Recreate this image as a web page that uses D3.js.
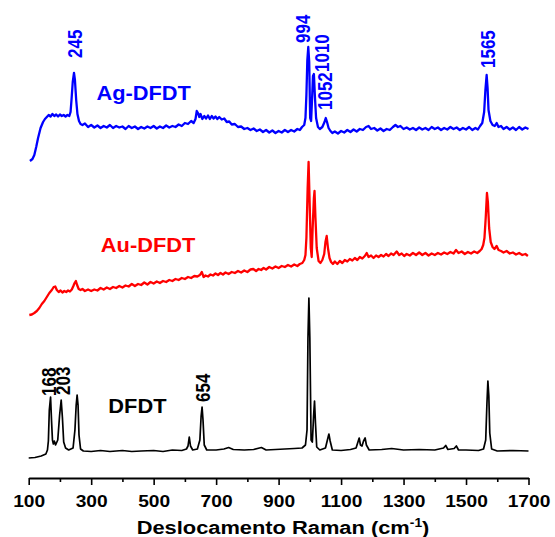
<!DOCTYPE html>
<html>
<head>
<meta charset="utf-8">
<script src="https://cdnjs.cloudflare.com/ajax/libs/d3/7.8.5/d3.min.js"></script>
<style>
  html, body { margin: 0; padding: 0; background: #fff; }
  svg { display: block; font-family: "Liberation Sans", Arial, sans-serif; }
</style>
</head>
<body>
<svg id="chart" width="555" height="537"></svg>
<script>
// Raman spectra, [wavenumber (cm-1), intensity (a.u.)]
var dfdt = [[100,20],[120,20.5],[140,22],[155,24],[160,28],[163,37],[166,68],[170,81],[173,58],[176,38],[179,34],[182,37],
    [186,33],[193,38],[199,63],[204,78],[208,60],[212,36],[218,30],[228,28],[242,30],[248,48],[252,73],[255,83],[258,73],
    [261,43],[266,29],[275,27],[300,26.5],[330,27.5],[360,26.5],[400,27.5],[430,26.5],[460,27],[500,27.5],[530,26.5],
    [560,28],[590,27.5],[605,29],[610,32],[614,41],[618,32],[625,28],[640,29],[648,38],[652,62],[655,71],[658,58],[662,33],
    [670,28],[700,28],[725,29],[740,30.5],[755,28.5],[790,28],[820,28.5],[845,30.5],[860,28],[890,28.5],[920,29],[950,29.5],
    [975,30],[986,33],[991,48],[994,140],[997,180],[1000,140],[1004,38],[1008,36],[1012,62],[1015,77],[1018,55],[1022,31],
    [1032,28],[1050,30],[1057,39],[1061,44],[1065,37],[1072,28],[1100,27.5],[1130,28.5],[1148,30],[1154,36],[1158,40],
    [1162,33],[1167,32],[1172,37],[1177,40],[1181,33],[1190,28],[1230,28.5],[1262,29.5],[1300,28],[1350,28.5],[1400,28],
    [1428,30],[1435,32.5],[1442,28.5],[1462,29.5],[1469,32],[1476,28],[1500,28],[1540,27.5],[1556,29],[1563,38],[1567,75],
    [1570,97],[1573,82],[1576,45],[1582,29],[1600,27],[1650,27.5],[1700,27]];

var auDfdt = [[102,13],[110,13.5],[118,15],[126,17],[134,20],[142,24],[150,27],[158,31],[166,35],[174,38],[180,41],[185,41.5],
    [190,38],[196,36],[202,37.5],[208,35.5],[214,37],[220,36],[226,37.5],[232,36.5],[238,38.5],[243,42],[247,45],[251,47],
    [255,43],[260,39],[266,38],[272,39],[280,37],[290,38.5],[300,37],[310,38.5],[320,37.5],[330,40],[340,38.5],[350,40.5],
    [360,39],[370,41],[380,40],[390,42],[400,40.5],[410,42.5],[420,41.5],[430,44],[440,42],[450,44],[460,43],[470,45.5],
    [480,43.5],[490,46],[500,44.5],[510,46.5],[520,45],[530,47],[540,46],[550,48],[560,47],[570,49],[580,48],[590,50],
    [600,49],[610,51],[620,50],[630,52],[640,51.5],[648,53],[654,56],[660,51],[666,52.5],[674,51.5],[682,53.5],[690,52.5],
    [698,54.5],[706,53],[714,55],[722,53.5],[730,55.5],[740,54],[750,56],[760,55],[770,57],[780,55.5],[790,57.5],[800,56],
    [810,58.5],[819,59],[828,57],[836,59],[844,58],[852,60],[860,58.5],[870,61],[880,59.5],[890,61.5],[900,60],[910,62],
    [920,61],[930,63],[940,61.5],[950,63.5],[960,62],[968,64],[976,65],[982,68],[986,73],[989,90],[993,140],[996,166],
    [999,130],[1003,80],[1006,71],[1009,100],[1013,130],[1015,137],[1018,110],[1022,80],[1028,67],[1034,65],[1040,68],
    [1046,74],[1050,86],[1054,92],[1058,80],[1063,70],[1068,66],[1074,64],[1080,66.5],[1088,64],[1096,67],[1104,65],
    [1112,68],[1120,66.5],[1128,69],[1136,67.5],[1144,70],[1152,68],[1160,71],[1168,69.5],[1176,72],[1182,75],[1188,71],
    [1196,72.5],[1204,70],[1212,72.5],[1220,71],[1228,73],[1236,71.5],[1244,74],[1252,72],[1260,74.5],[1268,73],[1278,76.5],
    [1286,73],[1294,74.5],[1302,72],[1310,74],[1320,72.5],[1330,75],[1340,73],[1350,75.5],[1360,73],[1370,75],[1380,72.5],
    [1390,74.5],[1400,73],[1410,75],[1420,73.5],[1430,75.5],[1440,74],[1450,76],[1460,74.5],[1468,78],[1476,75],[1486,76.5],
    [1496,74],[1506,76],[1516,74.5],[1526,76.5],[1536,75],[1544,77],[1550,79],[1555,83],[1559,90],[1563,110],[1567,135],
    [1570,126],[1574,100],[1579,86],[1585,81],[1591,79],[1598,82],[1604,78],[1612,77],[1620,75.5],[1630,77],[1640,74.5],
    [1650,75.5],[1660,73.5],[1670,75],[1680,73],[1690,74],[1698,72]];

var agDfdt = [[104,7],[112,9],[118,13],[124,21],[130,30],[138,40],[146,46],[152,49],[158,51],[164,53],[170,51.5],[176,54],
    [182,52],[188,53.5],[194,51.5],[200,53.5],[206,52],[212,53],[218,51.5],[224,53],[230,52],[234,56],[237,68],[241,86],
    [245,95],[248,88],[252,68],[256,54],[261,47],[266,44],[272,43],[280,44.5],[290,41],[300,43],[310,40.5],[320,42.5],
    [330,40],[340,42],[350,40.5],[360,43],[370,40],[380,42],[390,40.5],[400,41.5],[410,39],[420,42],[430,40],[440,41.5],
    [450,39],[460,41],[470,39.5],[480,41.5],[490,40],[500,42],[510,39.5],[520,41.5],[530,40],[540,42.5],[550,40.5],[560,42],
    [570,41],[580,43.5],[590,42],[600,45],[610,44],[620,47],[628,45],[634,49],[638,57],[642,55],[646,51],[650,54],[656,49],
    [662,52],[668,49.5],[674,52.5],[680,49],[686,52],[692,49.5],[698,51.5],[704,49],[710,51],[718,48.5],[726,49.5],[734,46],
    [742,46.5],[750,43.5],[760,44],[770,41],[780,41.5],[790,39],[800,40],[810,38],[820,39.5],[830,37],[840,38.5],[850,36],
    [860,38],[870,35.5],[880,37.5],[890,35],[900,37],[910,35.5],[920,38],[930,36],[940,38],[950,36.5],[960,39],[968,38],
    [975,41],[982,43],[986,50],[989,73],[992,108],[995,121],[998,106],[1001,50],[1004,47],[1007,68],[1010,92],[1013,94],
    [1016,73],[1020,50],[1026,41],[1032,39],[1040,41],[1047,46],[1051,50],[1055,46],[1060,40],[1066,37],[1072,35],[1080,36.5],
    [1090,34.5],[1100,37],[1110,35.5],[1120,38],[1130,36],[1140,38.5],[1150,36.5],[1160,39],[1170,38],[1180,41],[1188,42],
    [1196,39],[1206,40],[1216,37.5],[1226,39.5],[1236,37],[1246,39],[1256,38],[1266,41],[1274,43],[1282,41],[1290,42],
    [1300,39],[1310,40.5],[1320,38.5],[1330,40],[1340,38],[1350,40.5],[1360,38.5],[1370,40],[1380,38],[1390,41],[1400,39],
    [1410,40.5],[1420,38],[1430,40],[1440,38.5],[1450,41],[1460,39],[1470,40.5],[1480,38],[1490,40],[1500,38.5],[1510,41],
    [1520,38],[1530,40],[1538,38.5],[1545,42],[1552,45],[1558,56],[1562,78],[1566,93],[1569,80],[1572,58],[1578,47],
    [1585,43],[1592,42],[1598,45],[1604,41],[1612,42],[1620,39],[1630,41],[1640,38.5],[1650,40.5],[1660,38],[1670,41],
    [1680,38.5],[1690,40.5],[1700,39]];

var seriesNames = ['DFDT', 'Au-DFDT', 'Ag-DFDT'];
var seriesOffsets = [0, 150, 310];           // vertical stacking offset
var nameAnchors = [[355, 65], [331, 76], [317, 68]]; // [wavenumber, intensity] where the name sits

// peak annotations: [text, wavenumber, intensity]
var dfdtPeaks = [['168', 164, 82], ['203', 210, 83], ['654', 657, 76]];
var auPeaks = [];
var agPeaks = [['245', 248, 110], ['994', 979, 125], ['1010', 1039, 96], ['1052', 1048, 58], ['1565', 1570, 100]];

var majorTicks = [100, 300, 500, 700, 900, 1100, 1300, 1500, 1700];
var minorTicks = [200, 400, 600, 800, 1000, 1200, 1400, 1600];

var colors = ['#000000', '#ff0000', '#0000ff'],
    lineWidths = [1.7, 2.3, 2.3],
    textStretch = 1.13;

var svg = d3.select('#chart');
var x = d3.scaleLinear().domain([100, 1700]).range([28.7, 528.5]);
var y = d3.scaleLinear().domain([0, 450]).range([478, 28]);

var spectra = [dfdt, auDfdt, agDfdt],
    peaks = [dfdtPeaks, auPeaks, agPeaks];

spectra.forEach(function (data, i) {
    var off = seriesOffsets[i];
    var line = d3.line()
        .x(function (d) { return x(d[0]); })
        .y(function (d) { return y(d[1] + off); });

    svg.append('path')
        .datum(data)
        .attr('d', line)
        .attr('fill', 'none')
        .attr('stroke', colors[i])
        .attr('stroke-width', lineWidths[i])
        .attr('stroke-linejoin', 'round');

    // series name
    svg.append('text')
        .attr('transform', 'translate(' + x(nameAnchors[i][0]) + ',' + y(nameAnchors[i][1] + off) + ') scale(1.09,1)')
        .attr('fill', colors[i])
        .attr('font-size', 20)
        .attr('font-weight', 'bold')
        .text(seriesNames[i]);

    // rotated peak labels
    svg.selectAll(null)
        .data(peaks[i])
        .enter().append('text')
        .attr('transform', function (d) {
            return 'translate(' + x(d[1]) + ',' + y(d[2] + off) + ') scale(1.15,1) rotate(-90)';
        })
        .attr('dy', '0.36em')
        .attr('fill', colors[i])
        .attr('font-size', 17)
        .attr('font-weight', 'bold')
        .text(function (d) { return d[0]; });
});

// x axis
var axisG = svg.append('g')
    .attr('transform', 'translate(0,478)')
    .call(d3.axisBottom(x).tickValues(majorTicks).tickFormat(d3.format('d'))
        .tickSize(7).tickSizeOuter(0).tickPadding(10));
axisG.attr('font-size', 17).attr('font-family', null).attr('font-weight', 'bold');
axisG.select('.domain').attr('stroke-width', 2);
axisG.selectAll('.tick line').attr('stroke-width', 1.6);
axisG.selectAll('.tick text').attr('transform', 'scale(' + textStretch + ',1)');

svg.append('g')
    .attr('transform', 'translate(0,478)')
    .call(d3.axisBottom(x).tickValues(minorTicks).tickSize(4).tickFormat(''))
    .call(function (g) { g.select('.domain').remove(); })
    .selectAll('.tick line').attr('stroke-width', 1.6);

// axis title
var title = svg.append('text')
    .attr('transform', 'translate(283,534) scale(1.15,1)')
    .attr('text-anchor', 'middle')
    .attr('font-size', 19)
    .attr('font-weight', 'bold');
title.append('tspan').text('Deslocamento Raman (cm');
title.append('tspan').attr('font-size', 12).attr('dy', -7).text('-1');
title.append('tspan').attr('dy', 7).text(')');
</script>
</body>
</html>
